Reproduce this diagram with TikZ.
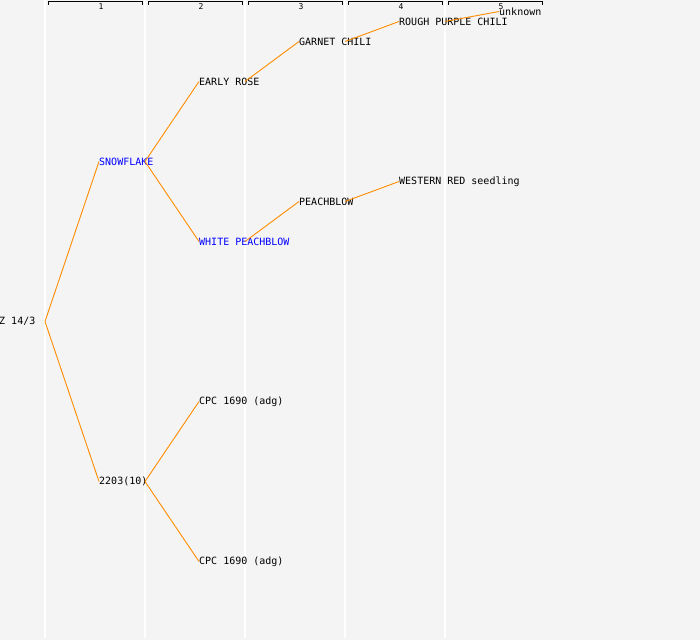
\documentclass[tikz,border=0pt]{standalone}
\usepackage{fontspec}
\newfontfamily\monof{DejaVu Sans Mono}
\definecolor{bgc}{HTML}{F4F4F4}
\definecolor{edgec}{HTML}{FF8C00}
\definecolor{bluec}{HTML}{0000FF}
\tikzset{
  lbl/.style={anchor=west, inner sep=0pt, font=\monof\fontsize{10}{10}\selectfont, text=black},
  blbl/.style={lbl, text=bluec},
  edge/.style={draw=edgec, line width=0.9pt},
  gridline/.style={draw=white, line width=1.1pt},
  bracket/.style={draw=black, line width=0.9pt},
  hnum/.style={inner sep=0pt, font=\monof\fontsize{8}{8}\selectfont}
}
\begin{document}
\begin{tikzpicture}[x=1pt,y=-1pt]
\fill[bgc] (0,0) rectangle (700,640);
\useasboundingbox (0,0) rectangle (700,640);
% grid lines
\foreach \xx in {45,145,245,345,445} {
  \draw[gridline] (\xx,0) -- (\xx,638);
}
% header brackets
\foreach \g in {1,...,5} {
  \draw[bracket] ({100*\g-52},4.5) -- ({100*\g-52},1.5) -- ({100*\g+42},1.5) -- ({100*\g+42},4.5);
  \node[hnum] (h\g) at ({100*\g+1},6.5) {\g};
}
% nodes
\node[lbl]  (z)     at (-1,321.5) {Z 14/3};
\node[blbl] (snow)  at (99,161.5) {SNOWFLAKE};
\node[lbl]  (n2203) at (99,481.5) {2203(10)};
\node[lbl]  (early) at (199,81.5) {EARLY ROSE};
\node[blbl] (white) at (199,241.5) {WHITE PEACHBLOW};
\node[lbl]  (cpca)  at (199,401.5) {CPC 1690 (adg)};
\node[lbl]  (cpcb)  at (199,561.5) {CPC 1690 (adg)};
\node[lbl]  (garnet) at (299,41.5) {GARNET CHILI};
\node[lbl]  (peach) at (299,201.5) {PEACHBLOW};
\node[lbl]  (rough) at (399,21.5) {ROUGH PURPLE CHILI};
\node[lbl]  (western) at (399,181.5) {WESTERN RED seedling};
\node[lbl]  (unk)   at (499,11.5) {unknown};
% out points
\coordinate (z-o) at (45,321.5);
\coordinate (snow-o) at (145,161.5);
\coordinate (n2203-o) at (145,481.5);
\coordinate (early-o) at (245,81.5);
\coordinate (white-o) at (245,241.5);
\coordinate (garnet-o) at (345,41.5);
\coordinate (peach-o) at (345,201.5);
\coordinate (rough-o) at (445,21.5);
% connectors
\draw[edge] (z-o) -- (snow.west);
\draw[edge] (z-o) -- (n2203.west);
\draw[edge] (snow-o) -- (early.west);
\draw[edge] (snow-o) -- (white.west);
\draw[edge] (n2203-o) -- (cpca.west);
\draw[edge] (n2203-o) -- (cpcb.west);
\draw[edge] (early-o) -- (garnet.west);
\draw[edge] (white-o) -- (peach.west);
\draw[edge] (garnet-o) -- (rough.west);
\draw[edge] (peach-o) -- (western.west);
\draw[edge] (rough-o) -- (unk.west);
\end{tikzpicture}
\end{document}
